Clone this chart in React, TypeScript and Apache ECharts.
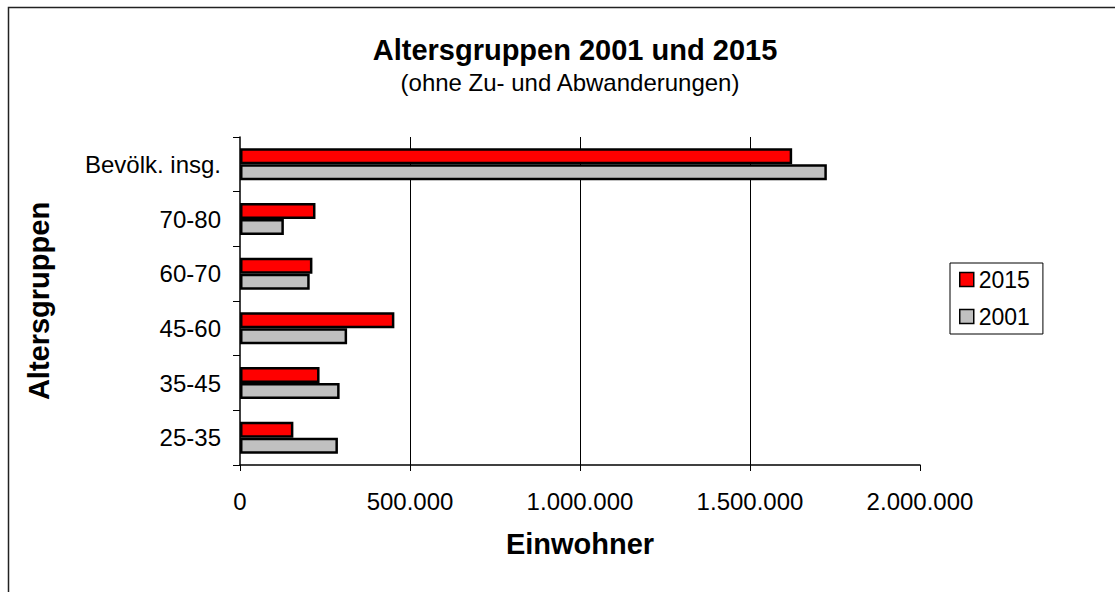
import React, { useEffect, useRef } from "react";
import * as echarts from "echarts";

const categories = ["25-35", "35-45", "45-60", "60-70", "70-80", "Bevölk. insg."];
const values2015 = [157000, 234000, 454000, 213000, 222000, 1624000];
const values2001 = [288000, 293000, 315000, 205000, 129000, 1726000];

const FONT = "Arial, 'Liberation Sans', sans-serif";

function fmt(v: number): string {
  return String(Math.round(v)).replace(/\B(?=(\d{3})+(?!\d))/g, ".");
}

export default function App() {
  const ref = useRef<HTMLDivElement>(null);
  useEffect(() => {
    document.body.style.margin = "0";
    const chart = echarts.init(ref.current!, null, { renderer: "svg" });
    chart.setOption({
      animation: false,
      backgroundColor: "#fff",
      textStyle: { fontFamily: FONT },
      title: [
        {
          text: "Altersgruppen 2001 und 2015",
          left: 570,
          top: 30,
          textAlign: "center",
          textStyle: { fontFamily: FONT, fontSize: 29, fontWeight: "bold", color: "#000" },
        },
        {
          text: "(ohne Zu- und Abwanderungen)",
          left: 565,
          top: 65,
          textAlign: "center",
          textStyle: { fontFamily: FONT, fontSize: 24, fontWeight: "normal", color: "#000" },
        },
      ],
      graphic: [
        {
          type: "rect",
          shape: { x: 8.5, y: 7.5, width: 2000, height: 2000 },
          style: { fill: "none", stroke: "#222", lineWidth: 1.5 },
          silent: true,
        },
      ],
      legend: {
        orient: "vertical",
        left: 950,
        top: 263,
        data: ["2015", "2001"],
        borderColor: "#000",
        borderWidth: 1,
        padding: [5, 13, 6, 9],
        itemGap: 14,
        itemWidth: 14,
        itemHeight: 14,
        icon: "rect",
        itemStyle: { borderColor: "#000", borderWidth: 1.5 },
        textStyle: { fontFamily: FONT, fontSize: 23, color: "#000", padding: [0, 0, 0, 0] },
      },
      grid: { left: 240, right: 195, top: 137, bottom: 127, containLabel: false },
      xAxis: {
        type: "value",
        min: 0,
        max: 2000000,
        interval: 500000,
        name: "Einwohner",
        nameLocation: "middle",
        nameGap: 64,
        nameTextStyle: { fontFamily: FONT, fontSize: 29, fontWeight: "bold", color: "#000" },
        axisLine: { show: true, lineStyle: { color: "#000", width: 1.5 } },
        axisTick: { show: true, length: 6, lineStyle: { color: "#000", width: 1 } },
        axisLabel: {
          margin: 24,
          fontFamily: FONT,
          fontSize: 24,
          color: "#000",
          formatter: (v: number) => fmt(v),
        },
        splitLine: {
          show: true,
          showMinLine: false,
          showMaxLine: false,
          lineStyle: { color: "#000", width: 1 },
        },
      },
      yAxis: {
        type: "category",
        data: categories,
        name: "Altersgruppen",
        nameLocation: "middle",
        nameRotate: 90,
        nameGap: 187,
        nameTextStyle: { fontFamily: FONT, fontSize: 29, fontWeight: "bold", color: "#000" },
        axisLine: { show: true, lineStyle: { color: "#000", width: 1.5 } },
        axisTick: { show: true, length: 7, lineStyle: { color: "#000", width: 1 } },
        axisLabel: { margin: 19, fontFamily: FONT, fontSize: 24, color: "#000" },
        splitLine: { show: false },
      },
      series: [
        {
          name: "2015",
          type: "bar",
          data: values2015,
          barWidth: 16,
          barGap: "0%",
          itemStyle: { color: "#FF0000", borderColor: "#000", borderWidth: 2.5 },
        },
        {
          name: "2001",
          type: "bar",
          data: values2001,
          barWidth: 16,
          barGap: "0%",
          itemStyle: { color: "#C0C0C0", borderColor: "#000", borderWidth: 2.5 },
        },
      ],
    });
    return () => chart.dispose();
  }, []);
  return <div ref={ref} style={{ width: 1115, height: 592 }} />;
}
